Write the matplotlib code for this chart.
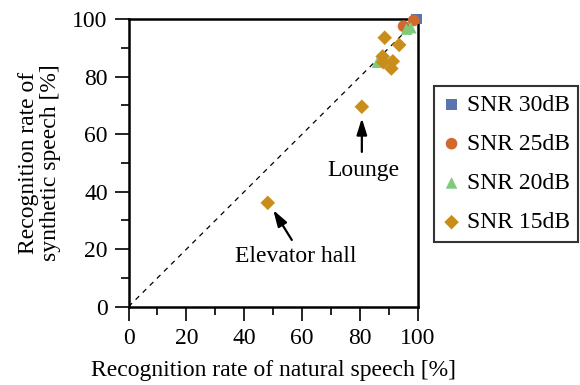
import matplotlib
matplotlib.use('Agg')
import matplotlib.pyplot as plt
from matplotlib.ticker import MultipleLocator

plt.rcParams['font.family'] = ['Liberation Serif', 'DejaVu Serif']

# natural / synthetic recognition rates [%]
snr30_nat = [99.5]
snr30_syn = [100.0]
snr25_nat = [95.0, 98.5]
snr25_syn = [97.5, 99.5]
snr20_nat = [86.0, 96.0, 97.5]
snr20_syn = [85.0, 96.5, 97.0]
snr15_nat = [48.1, 80.6, 88.5, 93.5, 87.8, 88.0, 91.3, 90.8]
snr15_syn = [36.1, 69.5, 93.5, 91.0, 87.0, 85.0, 85.3, 82.8]

labels = ['SNR 30dB', 'SNR 25dB', 'SNR 20dB', 'SNR 15dB']

fig = plt.figure(figsize=(5.8, 3.85), dpi=100)
ax = fig.add_axes([0.2216, 0.2034, 0.4991, 0.7472])

ax.plot([0, 100], [0, 100], color='black', ls=(0, (4, 4)), lw=0.9, zorder=1)

ax.scatter(snr30_nat, snr30_syn, marker='s', s=60, color='#5B74B0', label=labels[0], zorder=3,
           edgecolors='none', clip_on=False)
ax.scatter(snr25_nat, snr25_syn, marker='o', s=70, color='#D2692C', label=labels[1], zorder=3,
           edgecolors='none', clip_on=False)
ax.scatter(snr20_nat, snr20_syn, marker='^', s=70, color='#7ECB7B', label=labels[2], zorder=3,
           edgecolors='none', clip_on=False)
ax.scatter(snr15_nat, snr15_syn, marker='D', s=55, color='#C98D1B', label=labels[3], zorder=3,
           edgecolors='none', clip_on=False)

arrow = dict(arrowstyle='-|>,head_length=0.7,head_width=0.22', color='black', lw=1.6,
             mutation_scale=14, shrinkA=0, shrinkB=0)
ax.annotate('', xy=(80.6, 65.5), xytext=(80.6, 53.8), arrowprops=arrow)
ax.text(81.3, 47.5, 'Lounge', ha='center', va='center', fontsize=17)
ax.annotate('', xy=(50.0, 33.6), xytext=(56.4, 23.2), arrowprops=arrow)
ax.text(57.9, 17.5, 'Elevator hall', ha='center', va='center', fontsize=17)

ax.set_xlim(0, 100)
ax.set_ylim(0, 100)
ax.xaxis.set_major_locator(MultipleLocator(20))
ax.yaxis.set_major_locator(MultipleLocator(20))
ax.xaxis.set_minor_locator(MultipleLocator(10))
ax.yaxis.set_minor_locator(MultipleLocator(10))
ax.tick_params(which='major', direction='out', length=10, width=1.2, labelsize=17, pad=5)
ax.tick_params(which='minor', direction='out', length=6, width=1.2)
for sp in ax.spines.values():
    sp.set_linewidth(1.8)

ax.set_xlabel('Recognition rate of natural speech [%]', fontsize=17, labelpad=8)
ax.set_ylabel('Recognition rate of\nsynthetic speech [%]', fontsize=17, labelpad=8, linespacing=1.05)

leg = fig.legend(loc='upper left', bbox_to_anchor=(0.748, 0.777), fontsize=17,
                 frameon=True, fancybox=False, edgecolor='black', handletextpad=0.25,
                 handlelength=0.8, labelspacing=0.75, borderpad=0.35, borderaxespad=0)
leg.get_frame().set_linewidth(1.5)

fig.savefig('out.png', dpi=100)
